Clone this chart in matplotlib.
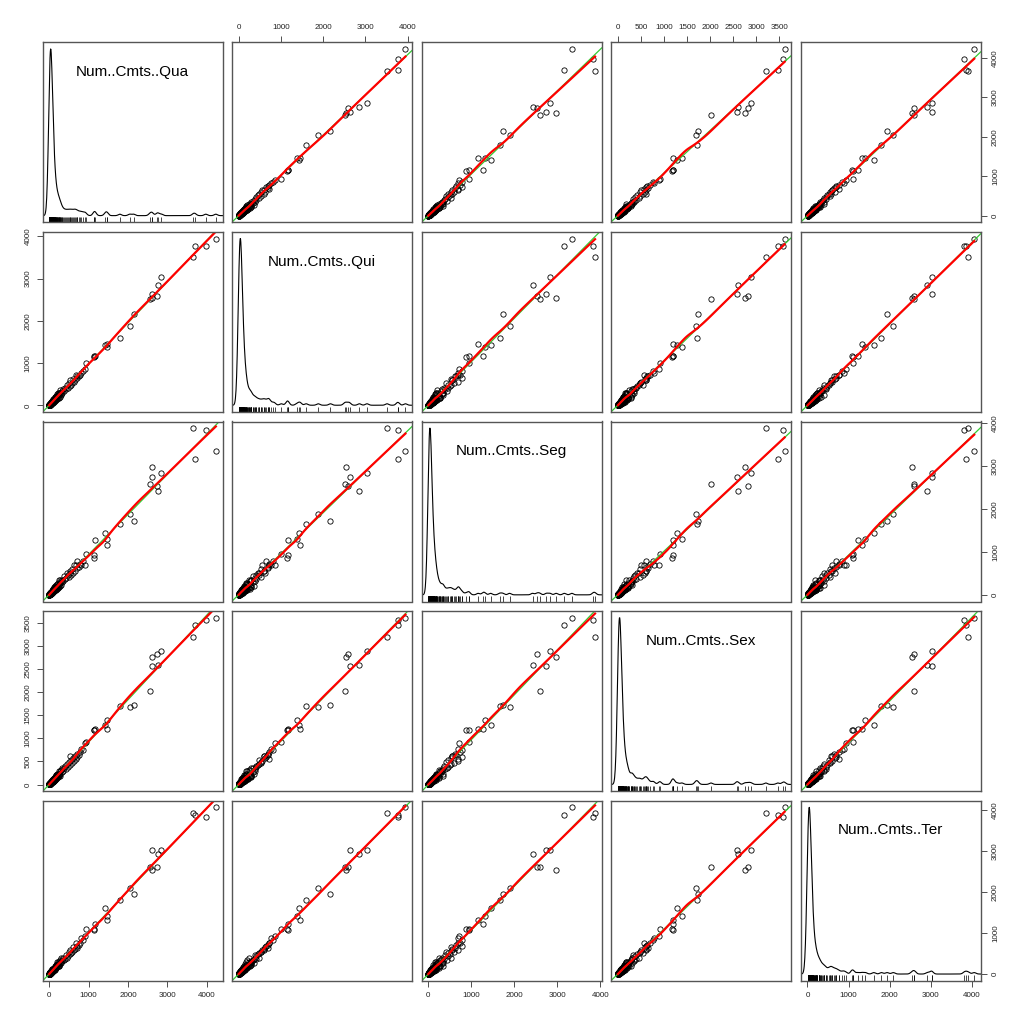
import numpy as np
import matplotlib
matplotlib.use('Agg')
import matplotlib.pyplot as plt
from matplotlib.transforms import blended_transform_factory

plt.rcParams['font.family'] = ['Liberation Sans', 'DejaVu Sans']

names = ['Num..Cmts..Qua', 'Num..Cmts..Qui', 'Num..Cmts..Seg',
         'Num..Cmts..Sex', 'Num..Cmts..Ter']

# big values, then the middle ones, then the crowd near zero
qua = [4230, 3975, 3705, 3660, 2850, 2765, 2740, 2620, 2600, 2555, 2145,
       2045, 1795, 1470, 1460, 1425, 1170, 1145, 1150, 930, 905,
       860, 820, 790, 760, 720, 700, 680, 650, 640, 610, 590, 560,
       540, 520, 500, 470, 450, 430, 400, 380, 360, 340, 320, 300,
       2, 4, 5, 7, 8, 10, 11, 13, 14, 16,
       17, 18, 20, 21, 23, 24, 25, 27, 28, 30,
       31, 33, 34, 36, 37, 39, 40, 42, 43, 45,
       47, 48, 50, 52, 54, 55, 57, 59, 61, 63,
       65, 67, 69, 71, 73, 75, 78, 80, 82, 85,
       87, 90, 92, 95, 98, 101, 104, 107, 110, 113,
       116, 120, 123, 127, 131, 135, 139, 143, 148, 152,
       157, 162, 167, 172, 178, 184, 190, 196, 203, 210,
       217, 225, 233, 241, 250, 259, 268, 278, 288, 298,
       12, 26, 38, 51, 66, 84, 105, 140, 185, 240,
       3, 6, 9, 12, 15, 18, 21, 24, 27, 30,
       4, 8, 13, 17, 22, 26, 31, 35, 40, 44,
       5, 10, 16, 22, 28, 34, 40, 46, 53, 60,
       6, 12, 19, 26, 33, 41, 49, 57, 66, 75,
       7, 14, 22, 30, 38, 47, 56, 66, 77, 88,
       8, 16, 25, 35, 45, 55, 66, 78, 91, 105,
       9, 18, 28, 39, 50, 62, 75, 89, 104, 120,
       10, 21, 33, 45, 58, 72, 87, 103, 120, 140]
qui = [3950, 3770, 3770, 3515, 3040, 2860, 2600, 2630, 2540, 2510, 2175,
       1885, 1600, 1380, 1460, 1440, 1165, 1150, 1160, 1010, 850,
       820, 760, 720, 690, 650, 700, 720, 600, 560, 620, 540, 480,
       600, 450, 520, 420, 480, 380, 420, 340, 380, 300, 350, 260,
       3, 3, 6, 5, 10, 10, 8, 18, 15, 14,
       22, 14, 22, 15, 28, 23, 19, 36, 29, 26,
       40, 26, 37, 25, 44, 37, 30, 57, 45, 38,
       61, 38, 55, 36, 65, 52, 43, 80, 64, 54,
       85, 54, 76, 50, 88, 71, 59, 108, 86, 72,
       113, 72, 101, 67, 118, 96, 78, 144, 116, 96,
       151, 96, 135, 89, 157, 128, 104, 193, 155, 129,
       204, 130, 184, 120, 214, 175, 143, 265, 213, 179,
       282, 180, 256, 169, 300, 246, 201, 375, 302, 253,
       11, 31, 38, 66, 53, 92, 74, 161, 176, 300,
       4, 5, 12, 9, 17, 16, 26, 19, 28, 29,
       5, 7, 17, 13, 24, 23, 39, 28, 42, 42,
       6, 9, 21, 17, 31, 31, 50, 37, 56, 57,
       7, 10, 25, 20, 36, 37, 61, 46, 69, 71,
       8, 12, 29, 23, 42, 42, 70, 53, 81, 84,
       10, 14, 33, 26, 50, 50, 83, 62, 96, 100,
       11, 15, 36, 29, 55, 56, 94, 71, 109, 114,
       12, 18, 43, 34, 64, 65, 109, 82, 126, 133]
seg = [3340, 3840, 3165, 3880, 2830, 2425, 2530, 2750, 2975, 2590, 1730,
       1890, 1660, 1310, 1160, 1450, 1275, 870, 940, 945, 705,
       780, 700, 730, 650, 780, 620, 700, 560, 690, 520, 600, 470,
       560, 500, 420, 460, 520, 390, 360, 430, 330, 350, 290, 320,
       2, 5, 4, 8, 7, 13, 11, 10, 17, 13,
       14, 23, 14, 23, 21, 31, 25, 20, 34, 24,
       26, 41, 24, 40, 33, 51, 40, 32, 52, 36,
       40, 60, 35, 57, 49, 72, 57, 44, 73, 50,
       55, 84, 48, 78, 66, 98, 78, 60, 98, 68,
       74, 113, 64, 105, 88, 131, 104, 80, 132, 90,
       99, 150, 86, 140, 118, 176, 139, 107, 178, 122,
       133, 203, 117, 189, 160, 239, 190, 147, 244, 168,
       184, 281, 163, 265, 225, 337, 268, 209, 346, 238,
       14, 21, 49, 46, 73, 59, 131, 133, 194, 180,
       3, 7, 7, 16, 14, 20, 16, 30, 23, 35,
       4, 10, 10, 22, 21, 29, 23, 44, 34, 51,
       5, 12, 13, 29, 27, 37, 30, 58, 45, 69,
       5, 14, 15, 34, 31, 45, 37, 71, 56, 86,
       6, 17, 18, 39, 36, 52, 42, 83, 65, 101,
       7, 19, 20, 46, 43, 61, 50, 98, 77, 121,
       8, 22, 22, 51, 48, 68, 56, 111, 88, 138,
       9, 25, 26, 59, 55, 79, 65, 129, 102, 161]
sex = [3620, 3580, 3470, 3210, 2890, 2600, 2830, 2580, 2760, 2020, 1735,
       1690, 1710, 1390, 1205, 1290, 1205, 1180, 1190, 920, 900,
       760, 780, 700, 640, 600, 660, 560, 620, 500, 580, 470, 540,
       610, 420, 480, 380, 450, 330, 400, 350, 300, 360, 280, 310,
       2, 4, 4, 8, 6, 9, 12, 11, 9, 17,
       13, 18, 16, 25, 16, 22, 28, 23, 18, 32,
       23, 33, 27, 43, 26, 35, 44, 36, 28, 47,
       35, 48, 40, 62, 38, 50, 63, 50, 40, 66,
       49, 67, 55, 85, 51, 68, 86, 68, 53, 89,
       65, 90, 74, 114, 69, 91, 114, 91, 72, 119,
       87, 120, 98, 152, 92, 122, 153, 122, 96, 160,
       118, 162, 134, 206, 125, 166, 209, 167, 132, 221,
       163, 225, 186, 289, 175, 233, 295, 236, 187, 313,
       12, 18, 42, 41, 86, 76, 126, 105, 213, 204,
       2, 7, 6, 12, 18, 14, 19, 25, 19, 29,
       3, 9, 9, 17, 26, 20, 28, 37, 28, 42,
       4, 11, 11, 22, 34, 26, 36, 48, 37, 57,
       5, 13, 13, 26, 40, 31, 44, 60, 46, 71,
       6, 15, 15, 30, 46, 35, 50, 69, 54, 84,
       6, 18, 18, 35, 54, 41, 59, 82, 64, 100,
       7, 20, 20, 39, 60, 47, 68, 93, 73, 114,
       8, 23, 23, 45, 70, 54, 78, 108, 84, 133]
ter = [4060, 3820, 3865, 3920, 3020, 2920, 2600, 3020, 2540, 2600, 1940,
       2090, 1800, 1410, 1320, 1615, 1220, 1100, 1080, 1110, 930,
       840, 880, 760, 700, 690, 640, 760, 600, 590, 660, 540, 520,
       580, 480, 550, 440, 400, 460, 380, 350, 400, 310, 340, 280,
       2, 4, 7, 6, 9, 8, 14, 13, 13, 22,
       19, 16, 26, 18, 26, 18, 31, 27, 27, 41,
       34, 30, 44, 31, 43, 29, 50, 42, 41, 61,
       52, 43, 65, 44, 62, 41, 71, 59, 58, 85,
       72, 60, 90, 60, 84, 56, 98, 80, 78, 115,
       96, 81, 120, 81, 113, 76, 130, 107, 105, 153,
       128, 108, 160, 108, 151, 101, 174, 143, 141, 205,
       173, 146, 217, 146, 205, 138, 238, 196, 193, 284,
       239, 203, 303, 205, 288, 194, 335, 278, 274, 402,
       10, 34, 34, 61, 66, 113, 89, 154, 231, 228,
       3, 6, 11, 10, 20, 18, 19, 30, 30, 24,
       5, 8, 16, 14, 29, 26, 28, 44, 44, 35,
       6, 10, 19, 19, 36, 34, 36, 58, 58, 48,
       7, 11, 23, 22, 43, 41, 44, 71, 73, 60,
       8, 13, 26, 26, 49, 47, 50, 83, 85, 70,
       9, 15, 30, 30, 59, 55, 59, 98, 100, 84,
       10, 17, 34, 33, 65, 62, 68, 111, 114, 96,
       12, 20, 40, 38, 75, 72, 78, 129, 132, 112]

tick_sets = [[0, 1000, 2000, 3000, 4000],
             [0, 1000, 2000, 3000, 4000],
             [0, 1000, 2000, 3000, 4000],
             [0, 500, 1000, 1500, 2000, 2500, 3000, 3500],
             [0, 1000, 2000, 3000, 4000]]

data = [np.array(v, dtype=float) for v in (qua, qui, seg, sex, ter)]
nv = len(data)


def r_range(v):
    lo, hi = v.min(), v.max()
    d = (hi - lo) * 0.04
    return lo - d, hi + d


def loess_line(x, y, span=0.5):
    o = np.argsort(x)
    xs, ys = x[o], y[o]
    n = len(xs)
    k = int(np.ceil(span * n))
    grid = np.linspace(xs.min(), xs.max(), 120)
    fit = []
    for g in grid:
        d = np.abs(xs - g)
        h = np.sort(d)[k - 1] * 1.0001
        w = np.clip(1 - (d / h) ** 3, 0, None) ** 3
        sw = np.sqrt(w)
        A = np.vstack([np.ones(n), xs - g]).T
        coef = np.linalg.lstsq(A * sw[:, None], ys * sw, rcond=None)[0]
        fit.append(coef[0])
    return grid, np.array(fit)


def kde(v, grid):
    n = len(v)
    q75, q25 = np.percentile(v, [75, 25])
    bw = 0.9 * min(v.std(ddof=1), (q75 - q25) / 1.34) * n ** -0.2
    z = (grid[:, None] - v[None, :]) / bw
    return np.exp(-0.5 * z ** 2).sum(axis=1) / (n * bw * np.sqrt(2 * np.pi)), bw


lims = [r_range(v) for v in data]

fig = plt.figure(figsize=(10.24, 10.24), dpi=100)
fig.patch.set_facecolor('white')

W = 1024.0
pitch = 189.6
size = 180.0
frame_col = '#555555'

for i in range(nv):
    for j in range(nv):
        left = (42.5 + pitch * j) / W
        bottom = 1 - (42.3 + pitch * i + size) / W
        ax = fig.add_axes([left, bottom, size / W, size / W])
        x = data[j]
        y = data[i]
        ax.set_xlim(lims[j])
        ax.set_ylim(lims[i])
        for sp in ax.spines.values():
            sp.set_color(frame_col)
            sp.set_linewidth(1.0)

        if i == j:
            lo, hi = lims[i]
            grid = np.linspace(lo, hi, 600)
            dens, bw = kde(x, grid)
            dmax = dens.max()
            dlo, dhi = -0.04 * dmax, 1.04 * dmax
            yy = lo + (dens - dlo) / (dhi - dlo) * (hi - lo)
            ax.plot(grid, yy, color='black', lw=0.8)
            tr = blended_transform_factory(ax.transData, ax.transAxes)
            ax.vlines(x, 0, 0.03, transform=tr, color='black', lw=0.5)
            ax.text(0.5, 0.835, names[i], transform=ax.transAxes,
                    ha='center', va='center', fontsize=11, color='black')
        else:
            ax.plot(x, y, 'o', mfc='none', mec='black', ms=3.8, mew=0.6)
            b1, b0 = np.polyfit(x, y, 1)
            xl = np.array(lims[j])
            ax.plot(xl, b0 + b1 * xl, color='#33cc33', lw=0.9)
            gx, gy = loess_line(x, y)
            ax.plot(gx, gy, color='red', lw=1.6)

        ax.set_xticks([])
        ax.set_yticks([])
        ax.tick_params(length=4, width=0.6, color='#333333',
                       labelsize=5.8, labelcolor='#222222', pad=4)
        if i == 0 and j % 2 == 1:
            ax.set_xticks(tick_sets[j])
            ax.xaxis.tick_top()
        if i == nv - 1 and j % 2 == 0:
            ax.set_xticks(tick_sets[j])
            ax.xaxis.tick_bottom()
        if j == 0 and i % 2 == 1:
            ax.set_yticks(tick_sets[i])
            ax.yaxis.tick_left()
            for lab in ax.get_yticklabels():
                lab.set_rotation(90)
                lab.set_va('center')
        if j == nv - 1 and i % 2 == 0:
            ax.set_yticks(tick_sets[i])
            ax.yaxis.tick_right()
            for lab in ax.get_yticklabels():
                lab.set_rotation(90)
                lab.set_va('center')

fig.savefig('out.png', dpi=100, facecolor='white')
